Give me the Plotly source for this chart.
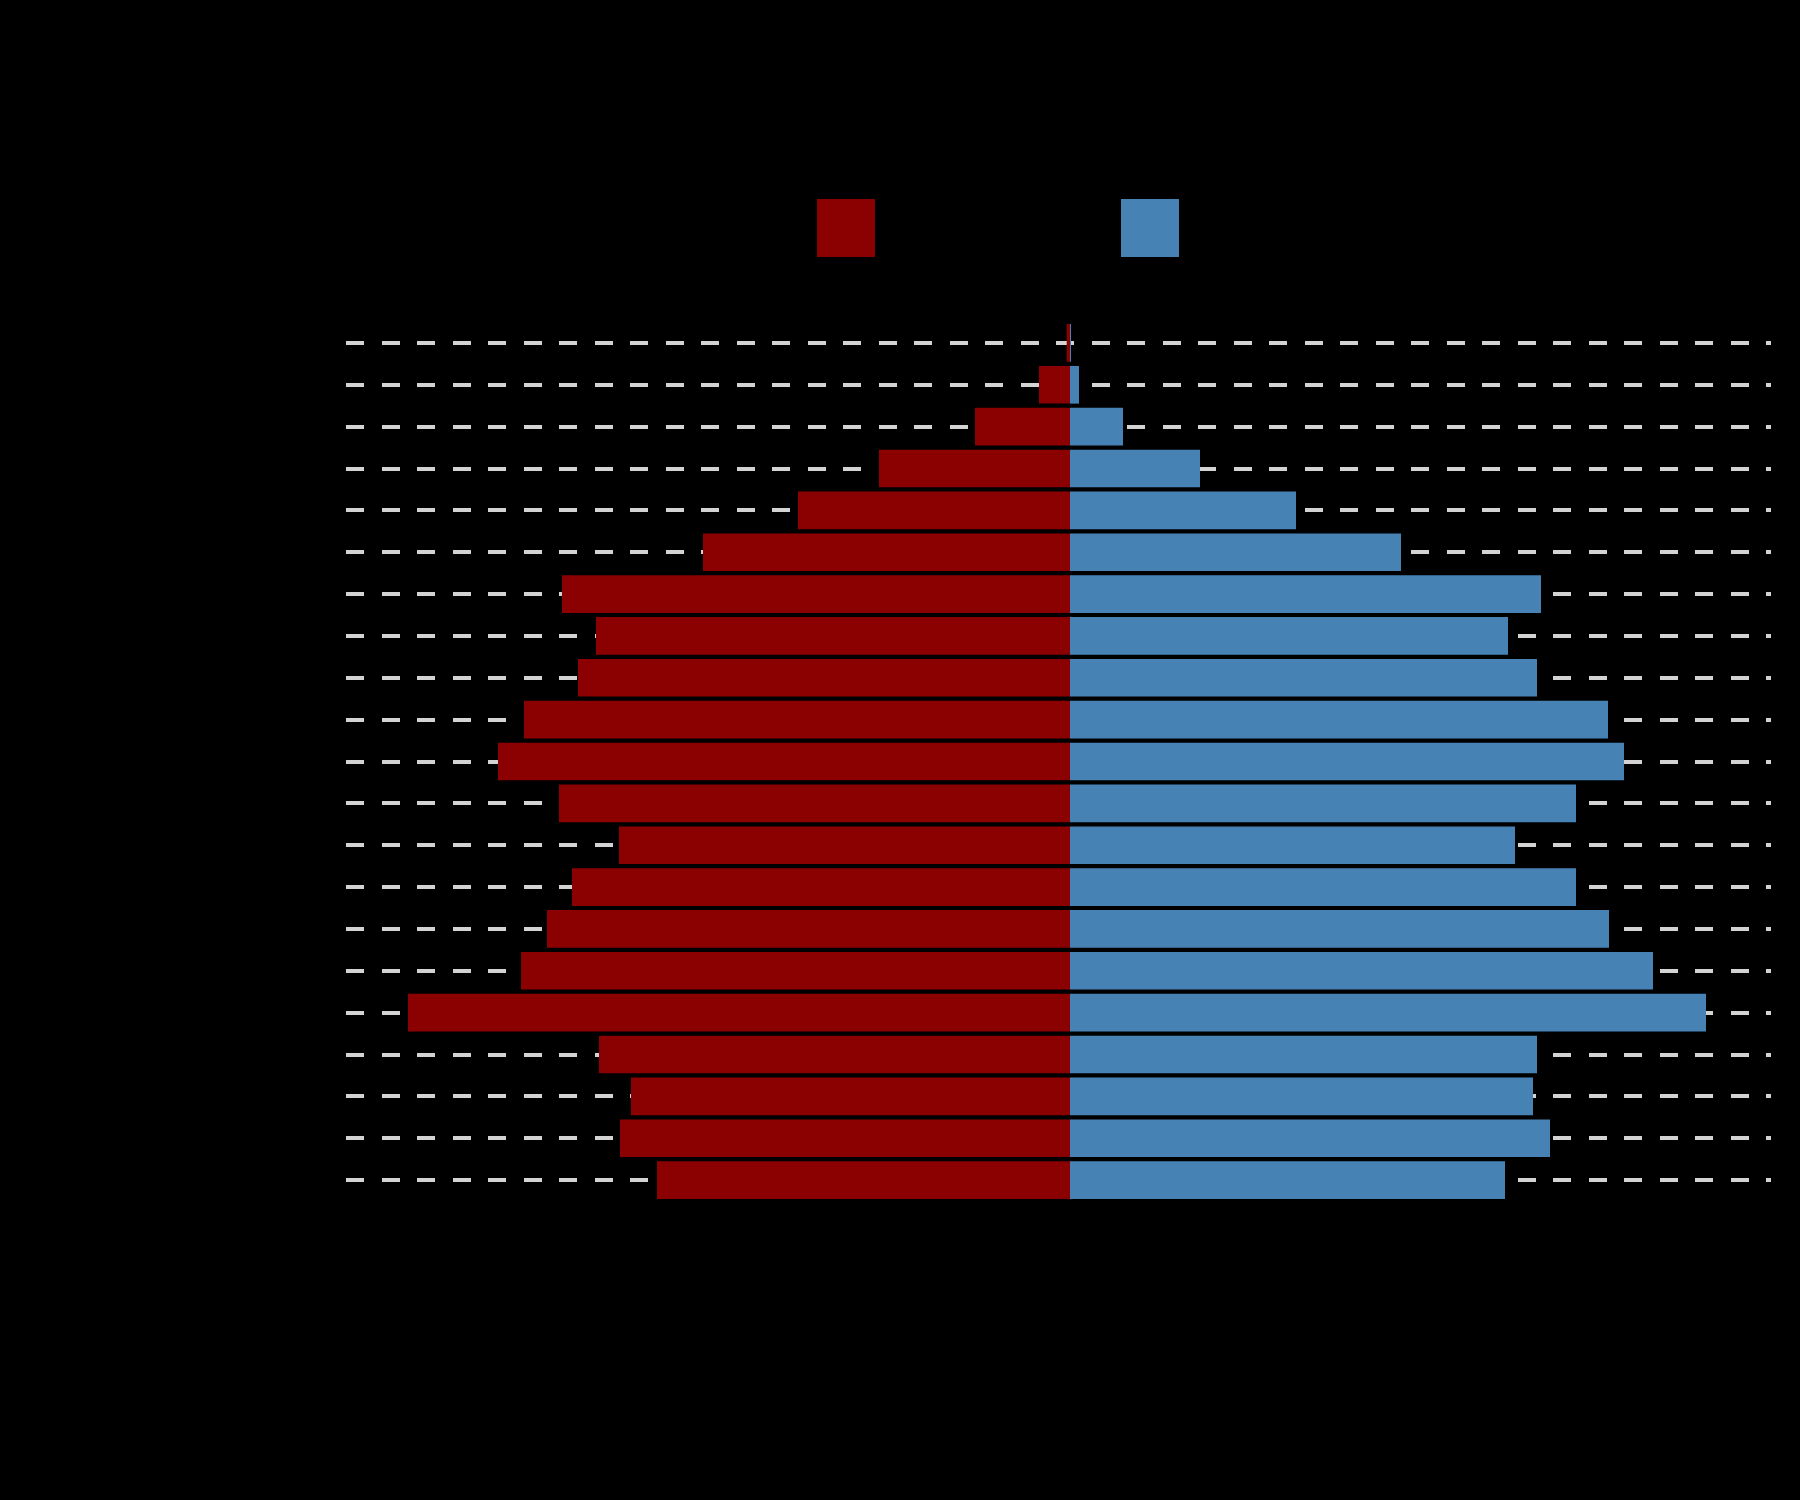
import plotly.graph_objects as go

age_groups = ["0-4", "5-9", "10-14", "15-19", "20-24", "25-29", "30-34", "35-39",
              "40-44", "45-49", "50-54", "55-59", "60-64", "65-69", "70-74",
              "75-79", "80-84", "85-89", "90-94", "95-99", "100+"]
male = [413, 450, 439, 471, 662, 549, 523, 498, 451, 511, 572, 546, 492, 474,
        508, 367, 272, 191, 95, 31, 3.3]
female = [435, 480, 463, 467, 636, 583, 539, 506, 445, 506, 554, 538, 467, 438,
          471, 331, 226, 130, 53, 9, 0.4]
tick_vals = [-600, -400, -200, 0, 200, 400, 600]
tick_text = ["600", "400", "200", "0", "200", "400", "600"]

MALE_COLOR = "#8b0000"
FEMALE_COLOR = "#4682b4"

fig = go.Figure()
fig.add_trace(go.Bar(y=age_groups, x=[-v for v in male], orientation="h",
                     name="Male", marker=dict(color=MALE_COLOR, line=dict(width=0)),
                     showlegend=False))
fig.add_trace(go.Bar(y=age_groups, x=female, orientation="h",
                     name="Female", marker=dict(color=FEMALE_COLOR, line=dict(width=0)),
                     showlegend=False))

# Legend swatches (drawn as shapes so they can be large squares)
L, R, T, B = 346, 1771, 322, 1201
W, H = R - L, B - T
def px_x(p):
    return (p - L) / W
def px_y(p):
    return (B - p) / H

shapes = [
    dict(type="rect", xref="paper", yref="paper", x0=px_x(817), x1=px_x(875),
         y0=px_y(257), y1=px_y(199), fillcolor=MALE_COLOR, line=dict(width=0)),
    dict(type="rect", xref="paper", yref="paper", x0=px_x(1121), x1=px_x(1179),
         y0=px_y(257), y1=px_y(199), fillcolor=FEMALE_COLOR, line=dict(width=0)),
]
annotations = [
    dict(text="Male", xref="paper", yref="paper", x=px_x(890), y=px_y(228),
         xanchor="left", yanchor="middle", showarrow=False,
         font=dict(size=28, color="black")),
    dict(text="Female", xref="paper", yref="paper", x=px_x(1194), y=px_y(228),
         xanchor="left", yanchor="middle", showarrow=False,
         font=dict(size=28, color="black")),
]

fig.update_layout(
    width=1800, height=1500,
    margin=dict(l=L, r=1800 - R, t=T, b=1500 - B, pad=0),
    paper_bgcolor="black", plot_bgcolor="black",
    barmode="relative", bargap=0.1,
    title=dict(text="Population Pyramid", x=0.5, y=0.95, font=dict(size=36, color="black")),
    font=dict(family="Liberation Sans", color="black", size=20),
    shapes=shapes, annotations=annotations,
    xaxis=dict(range=[-724, 701], showgrid=False, zeroline=False,
               tickvals=tick_vals, ticktext=tick_text,
               tickfont=dict(color="black", size=20),
               title=dict(text="Population (thousands)", font=dict(color="black", size=24))),
    yaxis=dict(showgrid=True, gridcolor="#d3d3d3", gridwidth=4, griddash="18px,17.5px",
               zeroline=False, tickfont=dict(color="black", size=20),
               title=dict(text="Age group", font=dict(color="black", size=24))),
)

fig.write_html("out.html")
